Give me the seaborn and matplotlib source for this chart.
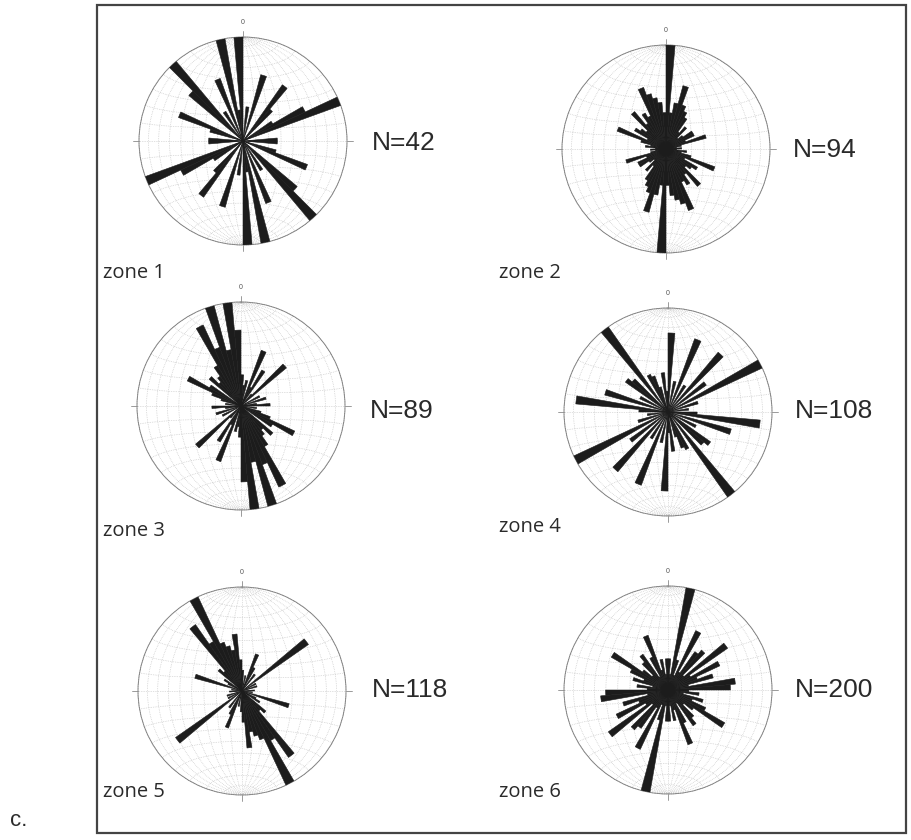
import numpy as np
import matplotlib
matplotlib.use("Agg")
import matplotlib.pyplot as plt
import seaborn as sns
from matplotlib.patches import Rectangle

# petal lengths (fraction of net radius), 5 degree bins over 0-180, drawn axially
bin_centers = np.arange(2.5, 180, 5)

zone1 = [0, 0.33, 0, 0.66, 0, 0, 0, 0.66, 0.4, 0, 0, 0.33, 0.66, 1.0, 0, 0, 0, 0.33,
         0.33, 0, 0, 0.33, 0.66, 0, 0, 0, 0.68, 1.0, 0, 0.33, 0, 0.64, 0, 1.0, 0.3, 1.0]
zone2 = [1.0, 0.35, 0.45, 0.63, 0.45, 0.4, 0.35, 0.2, 0.28, 0.15, 0.2, 0.3, 0.3, 0.2, 0.4, 0.15, 0.1, 0.15,
         0.1, 0.2, 0.15, 0.25, 0.5, 0.2, 0.35, 0.3, 0.25, 0.47, 0.3, 0.4, 0.35, 0.63, 0.55, 0.5, 0.45, 0.35]
zone3 = [0.3, 0.2, 0.25, 0, 0.57, 0.2, 0.4, 0, 0.15, 0.57, 0, 0, 0.2, 0, 0.25, 0, 0.15, 0.28,
         0, 0.15, 0, 0.2, 0.3, 0.57, 0.35, 0, 0.4, 0.3, 0.35, 0.45, 0.86, 0.6, 1.0, 0.55, 1.0, 0.73]
zone4 = [0.76, 0, 0.3, 0, 0.75, 0, 0.3, 0, 0.75, 0, 0.45, 0, 1.0, 0, 0.3, 0, 0.2, 0,
         0.28, 0.89, 0, 0.63, 0, 0.3, 0, 0.5, 0.45, 0, 1.0, 0, 0.4, 0.37, 0.25, 0, 0.38, 0.2]
zone5 = [0.2, 0, 0.15, 0, 0.38, 0.25, 0, 0.2, 0, 0, 0.78, 0, 0.15, 0, 0.15, 0, 0, 0.12,
         0, 0.1, 0, 0.47, 0, 0.15, 0.2, 0, 0.3, 0.25, 0.78, 0.55, 1.0, 0.5, 0.45, 0.4, 0.55, 0.3]
zone6 = [0.3, 0.15, 1.0, 0.3, 0.15, 0.63, 0.2, 0.45, 0.5, 0.2, 0.7, 0.25, 0.55, 0.3, 0.45, 0.2, 0.65, 0.6,
         0.2, 0.3, 0.15, 0.35, 0.25, 0.4, 0.63, 0.3, 0.2, 0.35, 0.42, 0.15, 0.35, 0.56, 0.2, 0.3, 0.15, 0.3]

zones = [zone1, zone2, zone3, zone4, zone5, zone6]
zone_names = ["zone 1", "zone 2", "zone 3", "zone 4", "zone 5", "zone 6"]
n_labels = ["N=42", "N=94", "N=89", "N=108", "N=118", "N=200"]

sns.set_style("white")
plt.rcParams['font.family'] = ['Liberation Sans', 'DejaVu Sans']

W, H = 911, 840
fig = plt.figure(figsize=(W / 100, H / 100), dpi=100)

# centres of each net in pixels, and label positions
centers = [(243, 141), (666, 149), (241, 406), (668, 412), (242, 691), (668, 690)]
R = 104
name_pos = [(103, 278), (499, 278), (103, 536), (499, 532), (103, 797), (499, 797)]
n_pos = [(372, 143), (793, 150), (370, 411), (795, 411), (372, 690), (795, 690)]


def schmidt_net(ax):
    # equal-area net, lower hemisphere, N-S axis
    def draw(x, y, z):
        k = np.sqrt(1.0 / (1.0 + z))
        X, Y = x * k, y * k
        th = np.unwrap(np.arctan2(X, Y))
        ax.plot(th, np.hypot(X, Y), color='#c2c2c2', lw=0.5, ls=(0, (1, 1.5)), zorder=1)

    phi = np.deg2rad(np.linspace(-90, 90, 181))
    for lam in range(10, 180, 10):
        l = np.deg2rad(lam)
        draw(np.cos(phi) * np.cos(l), np.sin(phi), np.cos(phi) * np.sin(l))
    lam = np.deg2rad(np.linspace(0, 180, 181))
    for p in range(-80, 90, 10):
        pp = np.deg2rad(p)
        draw(np.cos(pp) * np.cos(lam), np.full_like(lam, np.sin(pp)), np.cos(pp) * np.sin(lam))


for i, vals in enumerate(zones):
    cx, cy = centers[i]
    ax = fig.add_axes([(cx - R) / W, 1 - (cy + R) / H, 2 * R / W, 2 * R / H], projection='polar')
    ax.set_theta_zero_location('N')
    ax.set_theta_direction(-1)
    schmidt_net(ax)
    vals = np.array(vals)
    th = np.deg2rad(np.concatenate([bin_centers, bin_centers + 180]))
    ax.bar(th, np.concatenate([vals, vals]), width=np.deg2rad(5), bottom=0,
           color='#1c1c1c', edgecolor='#1c1c1c', linewidth=0.4, zorder=3)
    ax.set_ylim(0, 1)
    ax.set_xticks([])
    ax.set_yticks([])
    ax.grid(False)
    ax.spines['polar'].set_color('#8a8a8a')
    ax.spines['polar'].set_linewidth(0.7)
    ax.spines['polar'].set_linestyle((0, (1, 0.8)))
    for a in [0, 90, 180, 270]:
        ax.plot([np.deg2rad(a)] * 2, [1.0, 1.06], color='#8a8a8a', lw=0.6, clip_on=False)
    ax.text(0, 1.14, "0", fontsize=5, ha='center', va='center', color='#555555')

    fig.text(name_pos[i][0] / W, 1 - name_pos[i][1] / H, zone_names[i], fontsize=14.5,
             family=['Open Sans', 'DejaVu Sans'], color='#2a2a2a', ha='left', va='baseline')
    fig.text(n_pos[i][0] / W, 1 - n_pos[i][1] / H, n_labels[i], fontsize=19,
             color='#2a2a2a', ha='left', va='center')

fig.patches.append(Rectangle((97 / W, 1 - 833 / H), 809 / W, 828 / H, transform=fig.transFigure,
                             fill=False, edgecolor='#444444', lw=1.6))
fig.text(10 / W, 1 - 826 / H, "c.", fontsize=16, color='#2a2a2a', ha='left', va='baseline')

fig.savefig("out.png", dpi=100)
